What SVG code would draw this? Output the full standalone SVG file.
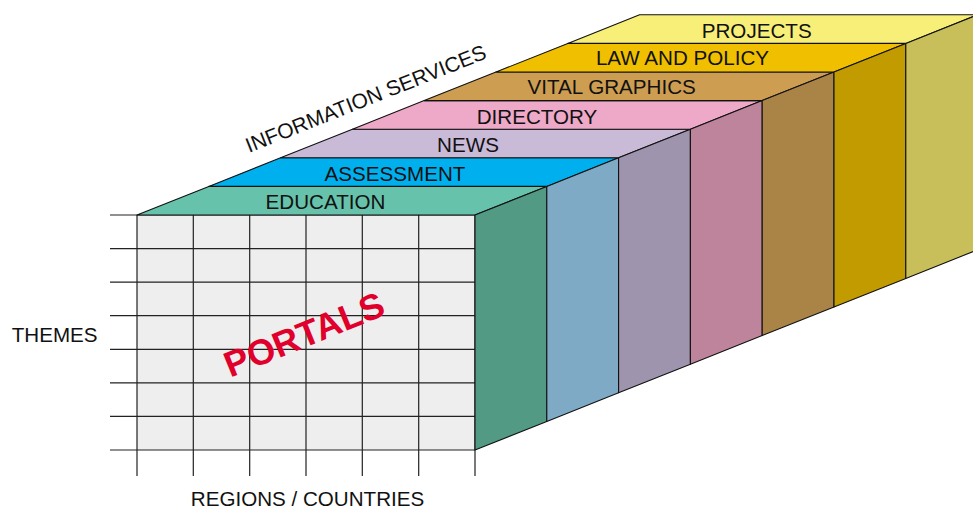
<svg xmlns="http://www.w3.org/2000/svg" width="973" height="508" viewBox="0 0 973 508">
<style>
.lbl{font-family:"Liberation Sans",Arial,sans-serif;font-size:20.6px;fill:#111;text-anchor:middle}
.edge{stroke:#111;stroke-width:1.1;stroke-linejoin:round}
.grid{stroke:#222;stroke-width:1.2;fill:none}
</style>
<rect width="973" height="508" fill="#ffffff"/>
<!-- front face -->
<g id="portals-face">
<rect x="137" y="215" width="338" height="235" fill="#eeeeee"/>
<g class="grid">
<path d="M110 215H475M110 248.6H475M110 282.1H475M110 315.7H475M110 349.3H475M110 382.9H475M110 416.4H475M110 450H475"/>
<path d="M137 215V476M193.3 215V476M249.7 215V476M306 215V476M362.3 215V476M418.7 215V476M475 215V476"/>
</g>
<text transform="translate(304,334) rotate(-22)" x="0" y="13" style="font-family:'Liberation Sans',Arial,sans-serif;font-weight:bold;font-size:36px;fill:#e1002b;text-anchor:middle">PORTALS</text>
</g>
<g id="layer-education">
<polygon class="edge" fill="#66c2aa" points="137,215 475,215 546.8,186.4 208.8,186.4"/>
<polygon class="edge" fill="#529a84" points="475,215 546.8,186.4 546.8,421.4 475,450"/>
<text class="lbl" x="325.5" y="209.2">EDUCATION</text>
</g>
<g id="layer-assessment">
<polygon class="edge" fill="#00b0ee" points="208.8,186.4 546.8,186.4 618.6,157.8 280.6,157.8"/>
<polygon class="edge" fill="#7eaac6" points="546.8,186.4 618.6,157.8 618.6,392.8 546.8,421.4"/>
<text class="lbl" x="395" y="181">ASSESSMENT</text>
</g>
<g id="layer-news">
<polygon class="edge" fill="#c9bad8" points="280.6,157.8 618.6,157.8 690.4,129.2 352.4,129.2"/>
<polygon class="edge" fill="#9f94ad" points="618.6,157.8 690.4,129.2 690.4,364.2 618.6,392.8"/>
<text class="lbl" x="468" y="152.3">NEWS</text>
</g>
<g id="layer-directory">
<polygon class="edge" fill="#eda9c7" points="352.4,129.2 690.4,129.2 762.2,100.6 424.2,100.6"/>
<polygon class="edge" fill="#bd849b" points="690.4,129.2 762.2,100.6 762.2,335.6 690.4,364.2"/>
<text class="lbl" x="537" y="124.2">DIRECTORY</text>
</g>
<g id="layer-vital-graphics">
<polygon class="edge" fill="#cd9e52" points="424.2,100.6 762.2,100.6 834,72 496,72"/>
<polygon class="edge" fill="#aa8346" points="762.2,100.6 834,72 834,307 762.2,335.6"/>
<text class="lbl" x="611.7" y="94.3">VITAL GRAPHICS</text>
</g>
<g id="layer-law-policy">
<polygon class="edge" fill="#f0c000" points="496,72 834,72 905.8,43.4 567.8,43.4"/>
<polygon class="edge" fill="#c29b00" points="834,72 905.8,43.4 905.8,278.4 834,307"/>
<text class="lbl" x="682.5" y="65.3">LAW AND POLICY</text>
</g>
<g id="layer-projects">
<polygon class="edge" fill="#f7ef77" points="567.8,43.4 905.8,43.4 977.6,14.8 639.6,14.8"/>
<polygon class="edge" fill="#c8bf5a" points="905.8,43.4 977.6,14.8 977.6,249.8 905.8,278.4"/>
<text class="lbl" x="756.7" y="38.3">PROJECTS</text>
</g>
<g id="axis-labels">
<text class="lbl" transform="translate(249,153) rotate(-21.7)" x="0" y="0" style="text-anchor:start;font-size:21px">INFORMATION SERVICES</text>
<text class="lbl" x="54.7" y="341.5">THEMES</text>
<text class="lbl" x="307.5" y="505.5">REGIONS / COUNTRIES</text>
</g>
</svg>
